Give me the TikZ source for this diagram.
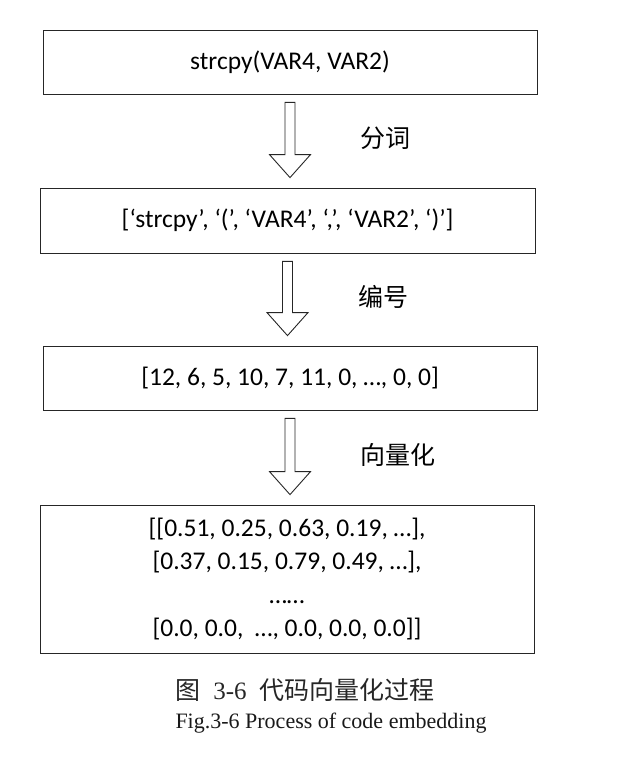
\documentclass[tikz,border=0pt]{standalone}
\usepackage{fontspec}
\setmainfont{Carlito}
\newfontfamily\cjk{Noto Sans CJK SC}
\newfontfamily\capfont{Liberation Serif}
\usetikzlibrary{calc}

\tikzset{
  stagebox/.style={draw=black!85, line width=0.8pt, minimum width=494pt, minimum height=64pt,
    inner sep=0pt, align=center, font=\fontsize{25.5}{33.5}\selectfont},
  steplabel/.style={anchor=west, font=\cjk\fontsize{25}{28}\selectfont},
  hollow/.style={draw=black!85, line width=0.9pt, fill=white, line join=miter}
}

% hollow block arrow from the bottom of #1 to the top of #2, labelled #3
\newcommand{\hollowarrow}[3]{%
  \path (#1.south) ++(0,8) coordinate (#1-top)
        (#2.north -| #1.south) ++(0,-10) coordinate (#1-tip);
  \draw[hollow] ($(#1-top)+(-5,0)$) -- ($(#1-top)+(5,0)$) -- ($(#1-tip)+(5,-23)$)
    -- ($(#1-tip)+(20.5,-23)$) -- (#1-tip) -- ($(#1-tip)+(-20.5,-23)$)
    -- ($(#1-tip)+(-5,-23)$) -- cycle;
  \node[steplabel] (#1-lab) at ($(#1-top)!0.5!(#1-tip)+(67,-2)$) {#3};
}

\begin{document}
\begin{tikzpicture}[x=1pt,y=-1pt]
  \useasboundingbox (0,0) rectangle (624,762);

  \node[stagebox] (code) at (290,62) {strcpy(VAR4, VAR2)};
  \node[stagebox, minimum width=495pt, minimum height=65pt] (tokens) at (287.5,220.5)
    {[`strcpy', `(', `VAR4', `,', `VAR2', `)']};
  \node[stagebox] (ids) at (290,378) {[12, 6, 5, 10, 7, 11, 0, \dots, 0, 0]};
  \node[stagebox, minimum height=148pt] (vecs) at (287,579)
    {[[0.51, 0.25, 0.63, 0.19, \dots],\\
     {}[0.37, 0.15, 0.79, 0.49, \dots],\\
     \dots\dots\\
     {}[0.0, 0.0,\ \ \dots, 0.0, 0.0, 0.0]]};

  \hollowarrow{code}{tokens}{分词}
  \hollowarrow{tokens}{ids}{编号}
  \hollowarrow{ids}{vecs}{向量化}

  \node[text=black!85, font=\cjk\fontsize{25}{27}\selectfont] (cap-cn) at (305,690)
    {图\hspace{13pt}{\capfont 3-6}\hspace{13pt}代码向量化过程};
  \node[text=black!90, font=\capfont\fontsize{22}{26}\selectfont] (cap-en) at (331,723)
    {Fig.3-6 Process of code embedding};
\end{tikzpicture}
\end{document}
